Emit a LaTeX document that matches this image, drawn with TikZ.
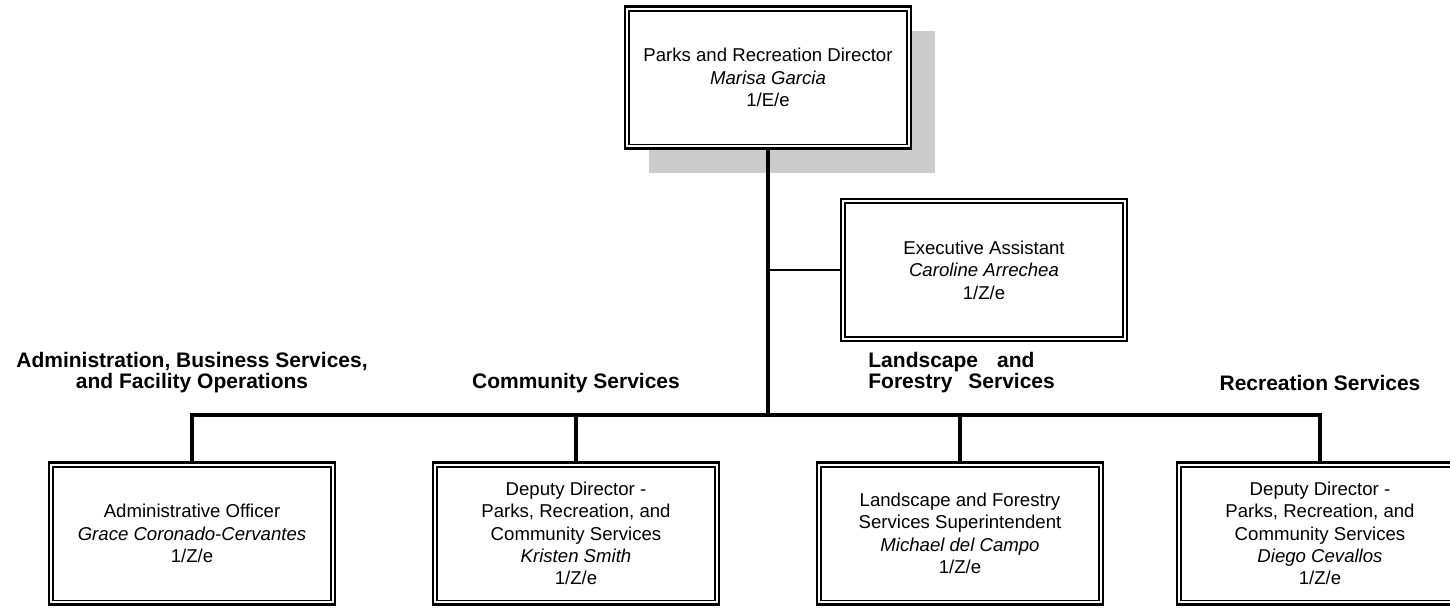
\documentclass[tikz,border=0pt]{standalone}
\usepackage{fontspec}
\setmainfont{Liberation Sans}
\usetikzlibrary{shadows}
\begin{document}
\begin{tikzpicture}[x=0.5pt,y=-0.5pt,
  posbox/.style={draw=black, line width=1.3pt, fill=white, minimum width=143pt, minimum height=71pt,
    inner sep=0pt, outer sep=0pt, align=center, font=\fontsize{9.3pt}{11.2pt}\selectfont,
    path picture={\draw[line width=0.8pt] ([shift={(2.1pt,-2.1pt)}]path picture bounding box.north west) rectangle ([shift={(-2.1pt,2.1pt)}]path picture bounding box.south east);}},
  shadowed/.style={drop shadow={shadow xshift=12pt, shadow yshift=-12pt, fill=black!20, opacity=1}},
  head/.style={font=\fontsize{10.5pt}{10.8pt}\selectfont\bfseries, inner sep=0pt},
  conn/.style={line width=1.6pt},
  thinconn/.style={line width=1.1pt}]
\useasboundingbox (0,0) rectangle (1450,607);

\node[posbox, shadowed] (top) at (768,77.5) {Parks and Recreation Director\\\textit{Marisa Garcia}\\1/E/e};
\node[posbox] (exec) at (984,270) {Executive Assistant\\\textit{Caroline Arrechea}\\1/Z/e};

\node[posbox] (b1) at (192,533.5) {Administrative Officer\\\textit{Grace Coronado-Cervantes}\\1/Z/e};
\node[posbox] (b2) at (576,533.5) {Deputy Director -\\Parks, Recreation, and\\Community Services\\\textit{Kristen Smith}\\1/Z/e};
\node[posbox] (b3) at (960,533.5) {Landscape and Forestry\\Services Superintendent\\\textit{Michael del Campo}\\1/Z/e};
\node[posbox] (b4) at (1320,533.5) {Deputy Director -\\Parks, Recreation, and\\Community Services\\\textit{Diego Cevallos}\\1/Z/e};

\node[head, align=center] (h1) at (192,372.5) {Administration, Business Services,\\and Facility Operations};
\node[head] (h2) at (576,383) {Community Services};
\node[head, align=left, anchor=west] (h3) at (868,372.5) {Landscape\hspace{9.5pt}and\\Forestry\hspace{8pt}Services};
\node[head] (h4) at (1320,383) {Recreation Services};

\coordinate (bus) at (768,415);
\draw[conn] (top.south) -- (bus);
\draw[thinconn] (top.south |- exec.west) -- (exec.west);
\draw[conn] (b1.north) -- (b1.north |- bus) -- (b4.north |- bus) -- (b4.north);
\draw[conn] (b2.north) -- (b2.north |- bus);
\draw[conn] (b3.north) -- (b3.north |- bus);
\end{tikzpicture}
\end{document}
